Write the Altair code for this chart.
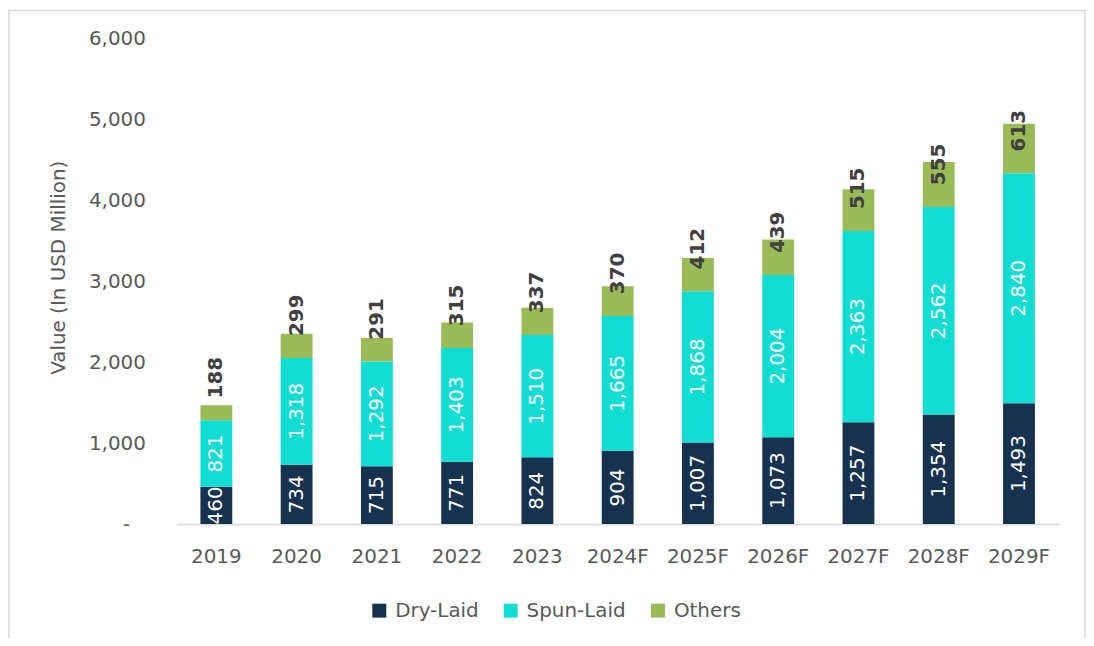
import altair as alt
import pandas as pd

years = ["2019", "2020", "2021", "2022", "2023", "2024F", "2025F", "2026F", "2027F", "2028F", "2029F"]
dry_laid = [460, 734, 715, 771, 824, 904, 1007, 1073, 1257, 1354, 1493]
spun_laid = [821, 1318, 1292, 1403, 1510, 1665, 1868, 2004, 2363, 2562, 2840]
others = [188, 299, 291, 315, 337, 370, 412, 439, 515, 555, 613]

series_names = ["Dry-Laid", "Spun-Laid", "Others"]
series_colors = ["#17324f", "#11ddd3", "#9bbb59"]
y_ticks = [0, 1000, 2000, 3000, 4000, 5000, 6000]

rows = []
for i, yr in enumerate(years):
    vals = [dry_laid[i], spun_laid[i], others[i]]
    base = 0
    for k, (name, v) in enumerate(zip(series_names, vals)):
        rows.append({"year": yr, "series": name, "value": v, "order": k,
                     "mid": base + v / 2, "end": base + v})
        base += v
df = pd.DataFrame(rows)

FONT = "DejaVu Sans"
GRAY = "#595959"

x_enc = alt.X("year:N", sort=years, title=None,
              scale=alt.Scale(paddingInner=0.6, paddingOuter=0.3),
              axis=alt.Axis(labelFontSize=20, labelColor=GRAY, labelFont=FONT,
                            ticks=False, tickSize=0, domainColor="#d9d9d9", domainWidth=1.5,
                            labelPadding=23, labelAngle=0))
y_scale = alt.Scale(domain=[0, 6000], nice=False)

bars = alt.Chart(df).mark_bar(size=32).encode(
    x=x_enc,
    y=alt.Y("value:Q", stack="zero", scale=y_scale,
            title="Value (In USD Million)",
            axis=alt.Axis(values=y_ticks, grid=False, domain=False, ticks=False, tickSize=0,
                          labelFontSize=20, labelColor=GRAY, labelFont=FONT,
                          labelPadding={"condition": {"test": "datum.value === 0", "value": 47}, "value": 31},
                          labelExpr="datum.value == 0 ? '-' : format(datum.value, ',')",
                          titleFontSize=20, titleColor=GRAY, titleFont=FONT, titleFontWeight="normal",
                          titleX=-118, titleY=230, titleAlign="center", titleBaseline="middle")),
    color=alt.Color("series:N", sort=series_names,
                    scale=alt.Scale(domain=series_names, range=series_colors),
                    legend=alt.Legend(title=None, orient="none", direction="horizontal",
                                      legendX=194, legendY=565, symbolType="square",
                                      symbolSize=196, symbolStrokeWidth=0, labelFontSize=20,
                                      labelColor=GRAY, labelFont=FONT, labelOffset=6,
                                      columnPadding=22, padding=0)),
    order=alt.Order("order:Q", sort="ascending"),
)

inner = alt.Chart(df[df["series"] != "Others"]).mark_text(
    angle=270, align="center", baseline="middle", color="white", fontSize=20, font=FONT
).encode(
    x=alt.X("year:N", sort=years),
    y=alt.Y("mid:Q", scale=y_scale),
    text=alt.Text("value:Q", format=","),
)

oth = df[df["series"] == "Others"].copy()
oth["base"] = oth["end"] - oth["value"]
top_labels = alt.Chart(oth).mark_text(
    angle=270, align="left", baseline="middle", color="#404040", fontSize=20,
    fontWeight="bold", font=FONT, dx=22
).encode(
    x=alt.X("year:N", sort=years),
    y=alt.Y("base:Q", scale=y_scale),
    text=alt.Text("value:Q", format=","),
)

frame = alt.Chart(pd.DataFrame({"a": [0]})).mark_rect(
    fill=None, stroke="#d9d9d9", strokeWidth=1.5
).encode(
    x=alt.value(-168), x2=alt.value(913), y=alt.value(-28), y2=alt.value(700)
)

chart = alt.layer(frame, bars, inner, top_labels).properties(
    width=887, height=488,
    autosize=alt.AutoSizeParams(type="none"),
    padding={"left": 169, "top": 29, "right": 27, "bottom": 113},
).configure(font=FONT, view=alt.ViewConfig(stroke=None, strokeWidth=0))

chart.save("out.html", embed_options={"renderer": "svg", "actions": False})
